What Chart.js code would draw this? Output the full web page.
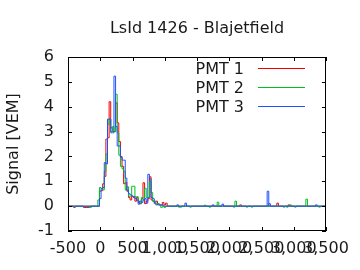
<!DOCTYPE html>
<html>
<head>
<meta charset="utf-8">
<script src="https://cdn.jsdelivr.net/npm/chart.js@4"></script>
<style>
  html, body { margin: 0; padding: 0; background: #fff; }
  #wrap { width: 360px; height: 270px; }
</style>
</head>
<body>
<div id="wrap"><canvas id="chart" width="360" height="270"></canvas></div>
<script>
// bin start times (ns) of the 25 ns bins around the shower peak
const peakStart = [-12.5, 12.5, 37.5, 62.5, 87.5, 112.5, 137.5, 162.5, 187.5, 212.5,
  237.5, 262.5, 287.5, 312.5, 337.5, 362.5, 387.5, 412.5, 437.5, 462.5,
  487.5, 512.5, 537.5, 562.5, 587.5, 612.5, 637.5, 662.5, 687.5, 712.5,
  737.5, 762.5, 787.5, 812.5, 837.5, 862.5, 887.5, 912.5, 937.5, 962.5,
  987.5, 1012.5, 1037.5];

const pmt1Peak = [0.6, 0.62, 0.9, 1.2, 2.7, 2.75, 4.2, 3.15, 3.0, 3.0,
  4.15, 3.35, 2.6, 2.0, 1.6, 0.9, 0.95, 0.6, 0.35, 0.25,
  0.4, 0.35, 0.2, 0.35, 0.15, 0.1, 0.3, 0.94, 0.1, 0.2,
  0.3, 1.18, 0.25, 0.2, 0.15, 0.2, 0.1, 0.05, 0.05, 0.15,
  0.05, 0.12, 0];
const pmt2Peak = [0.75, 0.7, 0.65, 1.4, 2.1, 3.3, 3.5, 3.0, 3.2, 3.0,
  4.5, 2.95, 2.05, 1.6, 1.5, 1.4, 0.65, 0.78, 0.4, 0.4,
  0.8, 0.8, 0.38, 0.38, 0.2, 0.1, 0.35, 0.25, 0.72, 0.35,
  0.35, 1.0, 0.55, 0.2, 0.2, 0.05, 0.1, 0.05, -0.05, 0,
  -0.05, 0, 0];
const pmt3Peak = [0.3, 0.7, 0.75, 1.75, 1.7, 3.5, 3.5, 2.95, 2.95, 5.23,
  3.2, 2.42, 2.42, 1.97, 1.85, 1.85, 1.13, 0.64, 0.5, 0.45,
  0.4, 0.38, 0.3, 0.25, 0.08, 0.2, 0.15, 0.25, 0.3, 0.12,
  1.28, 1.1, 0.35, 0.3, 0.1, 0.08, 0.05, 0.05, 0.05, 0.02,
  0, 0, 0];

// isolated single-bin blips outside the peak (start ns, value)
const pmt1BlipT = [-412.5, -262.5, -237.5, -212.5, -187.5, 2162.5, 2737.5, 2912.5];
const pmt1BlipV = [-0.05, -0.05, -0.05, -0.05, -0.05, 0.05, 0.12, 0.05];
const pmt2BlipT = [-162.5, -37.5, 1212.5, 1237.5, 1387.5, 1612.5, 1687.5, 1812.5, 2062.5, 2087.5,
  2262.5, 2337.5, 2837.5, 2887.5, 2937.5, 3012.5, 3187.5, 3387.5];
const pmt2BlipV = [-0.05, 0.25, -0.04, -0.04, -0.04, 0.04, -0.04, 0.16, -0.04, 0.2,
  -0.04, -0.04, -0.04, -0.04, 0.05, -0.04, 0.28, -0.04];
const pmt3BlipT = [1187.5, 1312.5, 1737.5, 1887.5, 2587.5, 2612.5, 3337.5];
const pmt3BlipV = [0.05, 0.12, 0.05, 0.08, 0.6, 0.1, 0.05];

const xTicksMin = -500, xTicksMax = 3500;
const seriesNames = ['PMT 1', 'PMT 2', 'PMT 3'];
const seriesColors = ['#ee0000', '#00c020', '#2050ff'];

function buildTrace(peak, blipT, blipV) {
  // each point holds its value until the next point (step drawn at next x)
  const pts = [{ x: xTicksMin, y: 0 }];
  const extra = [];
  blipT.forEach((t, i) => {
    extra.push({ x: t, y: blipV[i] }, { x: t + 25, y: 0 });
  });
  extra.filter(p => p.x <= peakStart[0]).forEach(p => pts.push(p));
  peakStart.forEach((t, i) => pts.push({ x: t, y: peak[i] }));
  pts.push({ x: peakStart[peakStart.length - 1] + 25, y: 0 });
  extra.filter(p => p.x > peakStart[0]).forEach(p => pts.push(p));
  pts.push({ x: xTicksMax, y: 0 });
  return pts;
}

const traces = [
  buildTrace(pmt1Peak, pmt1BlipT, pmt1BlipV),
  buildTrace(pmt2Peak, pmt2BlipT, pmt2BlipV),
  buildTrace(pmt3Peak, pmt3BlipT, pmt3BlipV)
];

const FONT = '"DejaVu Sans", sans-serif';
const INK = '#1a1a1a';

const framePlugin = {
  id: 'frame',
  afterDatasetsDraw(chart) {
    const { ctx, chartArea: a, scales } = chart;
    ctx.save();
    ctx.strokeStyle = '#000';
    ctx.lineWidth = 1;
    ctx.strokeRect(Math.round(a.left) + 0.5, Math.round(a.top) + 0.5,
      Math.round(a.right - a.left) - 1, Math.round(a.bottom - a.top) - 1);
    ctx.beginPath();
    scales.x.ticks.forEach(t => {
      const px = Math.round(scales.x.getPixelForValue(t.value)) + 0.5;
      ctx.moveTo(px, a.bottom); ctx.lineTo(px, a.bottom - 4);
      ctx.moveTo(px, a.top); ctx.lineTo(px, a.top + 4);
    });
    scales.y.ticks.forEach(t => {
      const py = Math.round(scales.y.getPixelForValue(t.value)) + 0.5;
      ctx.moveTo(a.left, py); ctx.lineTo(a.left + 4, py);
      ctx.moveTo(a.right, py); ctx.lineTo(a.right - 4, py);
    });
    ctx.stroke();

    // title
    ctx.fillStyle = INK;
    ctx.font = '16px ' + FONT;
    ctx.textAlign = 'center';
    ctx.textBaseline = 'alphabetic';
    ctx.fillText('LsId 1426 - Blajetfield', (a.left + a.right) / 2, 33);

    // key
    ctx.textAlign = 'right';
    seriesNames.forEach((name, i) => {
      const y = 68 + i * 19.2;
      ctx.fillStyle = INK;
      ctx.fillText(name, 244, y + 5.5);
      ctx.strokeStyle = seriesColors[i];
      ctx.beginPath();
      ctx.moveTo(258, Math.round(y) + 0.5);
      ctx.lineTo(305, Math.round(y) + 0.5);
      ctx.stroke();
    });
    ctx.restore();
  }
};

new Chart(document.getElementById('chart').getContext('2d'), {
  type: 'line',
  data: {
    datasets: traces.map((d, i) => ({
      label: seriesNames[i],
      data: d,
      borderColor: seriesColors[i],
      borderWidth: 1,
      stepped: 'before',
      pointRadius: 0,
      fill: false,
      order: 2 - i
    }))
  },
  options: {
    responsive: false,
    animation: false,
    layout: { padding: { top: 57, right: 34, bottom: 0, left: 0 } },
    plugins: {
      legend: { display: false },
      tooltip: { enabled: false },
      title: { display: false }
    },
    scales: {
      x: {
        type: 'linear',
        min: xTicksMin,
        max: xTicksMax,
        grid: { display: false, drawTicks: false },
        border: { display: false },
        ticks: {
          stepSize: 500,
          autoSkip: false,
          maxRotation: 0,
          padding: 8,
          color: INK,
          font: { family: FONT, size: 16 }
        },
        afterFit: s => { s.height = 39; }
      },
      y: {
        min: -1,
        max: 6,
        grid: { display: false, drawTicks: false },
        border: { display: false },
        ticks: {
          stepSize: 1,
          padding: 14,
          color: INK,
          font: { family: FONT, size: 16 }
        },
        title: {
          display: true,
          text: 'Signal [VEM]',
          color: INK,
          font: { family: FONT, size: 16 },
          padding: { top: 4, bottom: 0 }
        },
        afterFit: s => { s.width = 68; }
      }
    }
  },
  plugins: [framePlugin]
});
</script>
</body>
</html>
